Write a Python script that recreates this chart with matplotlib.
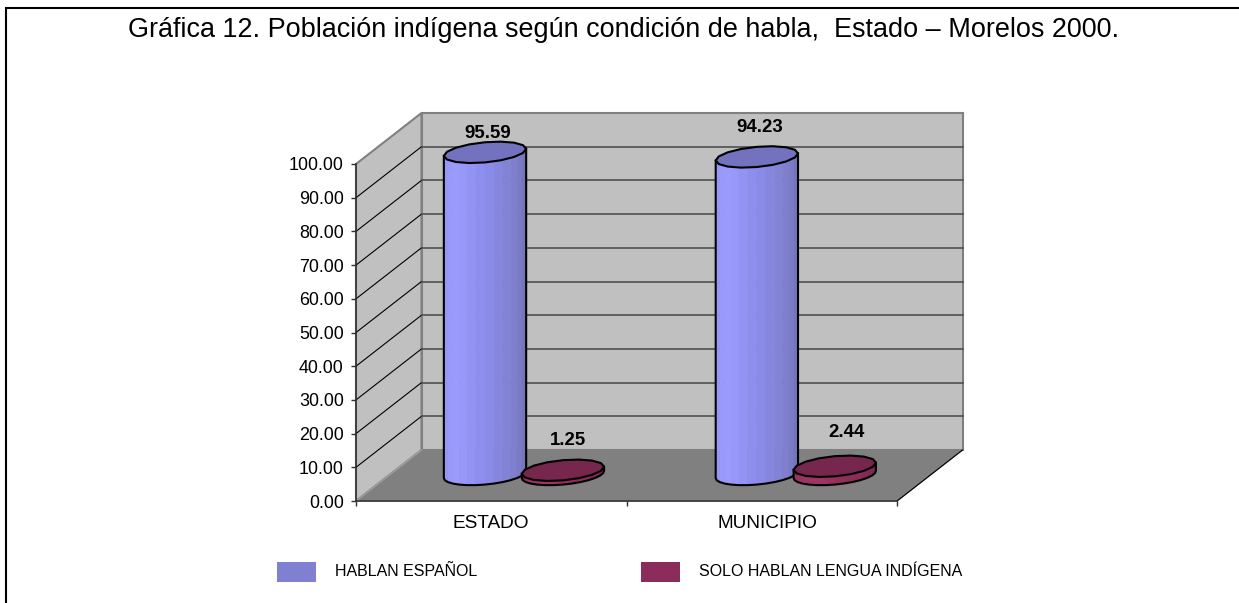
# Grafica 12: poblacion indigena, cilindros 3D estilo Excel
import numpy as np
import matplotlib
matplotlib.use('Agg')
import matplotlib.pyplot as plt
from matplotlib.colors import LinearSegmentedColormap
from matplotlib.lines import Line2D
from matplotlib.patches import Polygon, Rectangle

plt.rcParams['font.family'] = ['Liberation Sans', 'DejaVu Sans']

#########
# Datos #
#########
categorias = ['ESTADO', 'MUNICIPIO']
habla_espanol = [95.59, 94.23]
solo_indigena = [1.25, 2.44]
series = ['HABLAN ESPAÑOL', 'SOLO HABLAN LENGUA INDÍGENA']
titulo = 'Gráfica 12. Población indígena según condición de habla,  Estado – Morelos 2000.'
marcas_y = [0, 10, 20, 30, 40, 50, 60, 70, 80, 90, 100]

##########
# Figura #
##########
W, H = 1239, 603
fig = plt.figure(figsize=(W / 100, H / 100), dpi=100, facecolor='white')

# eje en pixeles: frente del piso de x=356 a 897, valores de y=501 a 164
ax = fig.add_axes([356 / W, (H - 501) / H, 541 / W, 337 / H])
ax.set_xlim(0, 2)
ax.set_ylim(0, 100)
ax.patch.set_visible(False)

px_x = 2 / 541      # unidades de categoria por pixel
px_y = 100 / 337    # unidades de valor por pixel
DX = 65.5 * px_x    # desplazamiento de la profundidad
DY = 51 * px_y


def poli(puntos, **kw):
    ax.add_patch(Polygon(puntos, closed=True, clip_on=False, **kw))


# paredes y piso
poli([(0, 0), (DX, DY), (DX, 100 + DY), (0, 100)], fc='#C0C0C0', ec='#808080', lw=1.5, zorder=1)
poli([(DX, DY), (2 + DX, DY), (2 + DX, 100 + DY), (DX, 100 + DY)], fc='#C0C0C0', ec='#808080', lw=1.5, zorder=1)
poli([(0, 0), (2, 0), (2 + DX, DY), (DX, DY)], fc='#808080', ec='#808080', lw=1, zorder=2)

# lineas de la reticula
for v in marcas_y[1:-1]:
    ax.plot([0, DX], [v, v + DY], color='black', lw=0.8, clip_on=False, zorder=3)
    ax.plot([DX, 2 + DX], [v + DY, v + DY], color='#505050', lw=1.2, clip_on=False, zorder=3)
ax.plot([0, DX], [0, DY], color='#A0A0A0', lw=1, clip_on=False, zorder=3)
ax.plot([2, 2 + DX], [0, DY], color='black', lw=0.8, clip_on=False, zorder=3)

azul = LinearSegmentedColormap.from_list('azul', ['#9494F4', '#9C9CFF', '#8C8CEC', '#8080D0', '#7070B8'])
guinda = LinearSegmentedColormap.from_list('guinda', ['#98305F', '#A03566', '#8C2C58', '#7A2650'])

# radio del cilindro en x y en profundidad (fraccion de la profundidad)
RX = 38.8 * px_x
RD = 0.21
CORRIMIENTO = 0.144
centros = [0.495, 1.5]


def punto(cx, v, t):
    prof = 0.52 + RD * np.sin(t)
    return cx + RX * np.cos(t) + DX * prof, v + DY * prof


def cilindro(cx, valor, cmap, tapa, z):
    # angulo donde queda la silueta del cilindro
    t0 = np.arctan2(DX / px_x * RD, RX / px_x)
    ts = np.linspace(t0 + np.pi, t0 + 2 * np.pi, 15)
    xb, yb = punto(cx, 0, ts)
    xt, yt = punto(cx, valor, ts)
    for i in range(len(ts) - 1):
        poli([(xb[i], yb[i]), (xb[i + 1], yb[i + 1]), (xt[i + 1], yt[i + 1]), (xt[i], yt[i])],
             fc=cmap(i / (len(ts) - 2)), ec=cmap(i / (len(ts) - 2)), lw=0.3, zorder=z)
    ax.plot(np.r_[xt[0], xb, xt[-1]], np.r_[yt[0], yb, yt[-1]], color='black', lw=1.5,
            clip_on=False, zorder=z + 0.1, solid_joinstyle='round')
    # tapa, poligonal como en el original
    tt = np.linspace(0, 2 * np.pi, 17)[:-1] + t0
    xc, yc = punto(cx, valor, tt)
    poli(np.c_[xc, yc], fc=tapa, ec='black', lw=1.5, zorder=z + 0.2, joinstyle='round')


for i in range(len(categorias)):
    cilindro(centros[i] - CORRIMIENTO, habla_espanol[i], azul, '#7272BE', 5 + i * 2)
    cilindro(centros[i] + CORRIMIENTO, solo_indigena[i], guinda, '#77264D', 6 + i * 2)

# etiquetas de datos, corridas a mano como en el original (pixeles)
desfase_esp = [(3, 19), (3, 29.5)]
desfase_ind = [(5, 30), (12, 34)]
for i in range(len(categorias)):
    for cx, v, (ox, oy) in [(centros[i] - CORRIMIENTO, habla_espanol[i], desfase_esp[i]),
                            (centros[i] + CORRIMIENTO, solo_indigena[i], desfase_ind[i])]:
        ax.annotate('%.2f' % v, (cx + DX * 0.52, v + DY * 0.52), xytext=(ox * 0.72, oy * 0.72),
                    textcoords='offset points', ha='center', va='center', fontsize=13.4,
                    fontweight='bold', color='black', annotation_clip=False, zorder=20)

# ejes
ax.set_yticks(marcas_y)
ax.set_yticklabels(['%.2f' % v for v in marcas_y], fontsize=12.9)
ax.set_xticks([0, 1, 2])
ax.set_xticklabels([])
ax.set_xticks([0.5, 1.52], minor=True)
ax.set_xticklabels(categorias, minor=True, fontsize=13.7)
ax.tick_params(axis='x', which='minor', length=0, pad=10)
ax.tick_params(axis='both', which='major', length=3.8, width=1, color='#303030', pad=5)
for lado in ['top', 'right']:
    ax.spines[lado].set_visible(False)
for lado in ['left', 'bottom']:
    ax.spines[lado].set_zorder(4)
    ax.spines[lado].set_linewidth(1.1)
    ax.spines[lado].set_color('#303030')

# titulo y leyenda
fig.text(624 / W, 1 - 30 / H, titulo, ha='center', va='center', fontsize=19.45)
colores_ley = ['#8080D0', '#8C2C5A']
pos_ley = [277, 641]
for nombre, color, x0 in zip(series, colores_ley, pos_ley):
    fig.add_artist(Rectangle((x0 / W, 1 - 582 / H), 39 / W, 20 / H, transform=fig.transFigure,
                             fc=color, ec='none'))
    fig.text((x0 + 58) / W, 1 - 571 / H, nombre, ha='left', va='center', fontsize=11.5)

# marco: solo arriba y a la izquierda
fig.add_artist(Line2D([6 / W, 6 / W, 1], [0, 1 - 8 / H, 1 - 8 / H], transform=fig.transFigure,
                      color='black', lw=1.5, solid_joinstyle='miter'))

fig.savefig('out.png', dpi=100, facecolor='white')
